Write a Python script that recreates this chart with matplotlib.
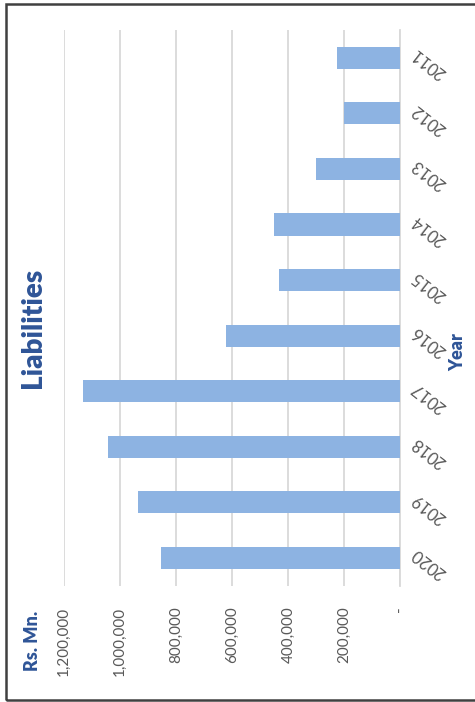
import matplotlib.pyplot as plt
from matplotlib.patches import Rectangle

# data (Rs. Mn.)
years = ['2011', '2012', '2013', '2014', '2015', '2016', '2017', '2018', '2019', '2020']
liabilities = [227000, 201000, 301000, 451000, 433000, 622000, 1132000, 1043000, 937000, 855000]
tick_vals = [0, 200000, 400000, 600000, 800000, 1000000, 1200000]
tick_text = ['-', '200,000', '400,000', '600,000', '800,000', '1,000,000', '1,200,000']

blue = '#2F5597'
bar_col = '#8DB3E2'
grey_txt = '#595959'

plt.rcParams['font.family'] = ['Lato', 'DejaVu Sans']

fig = plt.figure(figsize=(4.75, 7.02), dpi=100)
ax = fig.add_axes([64 / 475, 1 - 585.7 / 702, (400.3 - 64) / 475, (585.7 - 30) / 702])

pos = list(range(len(years)))
ax.barh(pos, liabilities, height=0.4, color=bar_col, zorder=3)

ax.set_xlim(1200000, 0)
ax.set_ylim(len(years) - 0.5, -0.5)

ax.set_xticks(tick_vals)
ax.set_xticklabels(tick_text, rotation=90, va='top', ha='center', fontsize=11, color=grey_txt)
ax.tick_params(axis='x', length=0, pad=15)
ax.grid(axis='x', color='#D9D9D9', linewidth=1.3, zorder=0)

ax.yaxis.tick_right()
ax.set_yticks(pos)
ax.set_yticklabels(years, rotation=142, ha='right', va='top', rotation_mode='anchor',
                   fontsize=12, color=grey_txt)
ax.tick_params(axis='y', length=0, pad=6)

for s in ['top', 'bottom', 'left']:
    ax.spines[s].set_visible(False)
ax.spines['right'].set_color('#D9D9D9')
ax.spines['right'].set_linewidth(1.3)

# titles
fig.text(33 / 475, 1 - 328 / 702, 'Liabilities', rotation=90, ha='center', va='center',
         fontsize=20, fontweight='heavy', color=blue)
fig.text(33 / 475, 1 - 641 / 702, 'Rs. Mn.', rotation=90, ha='center', va='center',
         fontsize=13, fontweight='heavy', color=blue)
fig.text(458 / 475, 1 - 352 / 702, 'Year', rotation=90, ha='center', va='center',
         fontsize=13, fontweight='heavy', color=blue)

# outer frame, right side runs off the picture
fig.patches.append(Rectangle((6 / 475, 2 / 702), 1.2, 696 / 702, transform=fig.transFigure,
                             fill=False, edgecolor='#404040', linewidth=1.8))

fig.savefig('out.png', dpi=100)
